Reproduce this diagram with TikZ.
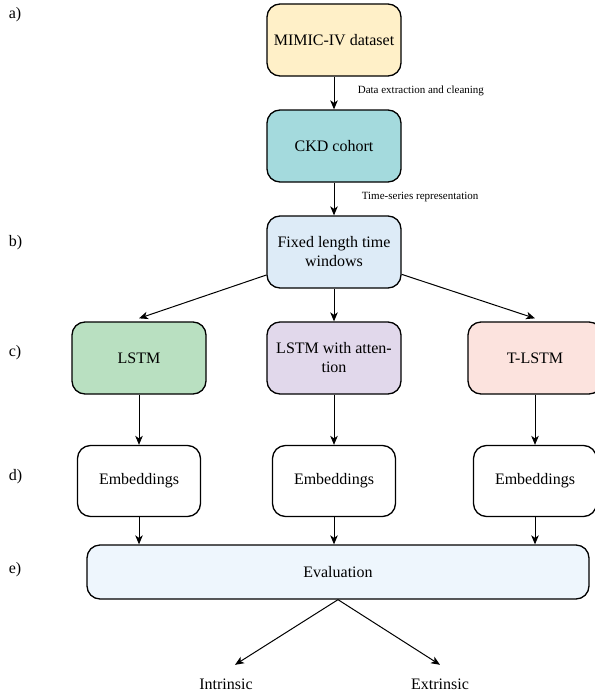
\documentclass[tikz,border=0pt]{standalone}
\usepackage{fontspec}
\setmainfont{Liberation Serif}
\usetikzlibrary{arrows.meta}
\usetikzlibrary{positioning}

\definecolor{mimicyellow}{HTML}{FFF0C8}
\definecolor{ckdteal}{HTML}{A4DADD}
\definecolor{windowblue}{HTML}{DDEBF7}
\definecolor{lstmgreen}{HTML}{B9E0C1}
\definecolor{attlilac}{HTML}{E1D8EB}
\definecolor{tlstmpink}{HTML}{FCE3DE}
\definecolor{evalblue}{HTML}{EEF6FD}

\begin{document}
\begin{tikzpicture}[node distance=106pt,auto,line width=1pt,>={Stealth[length=9pt,width=7.5pt,inset=2.5pt]},
    box/.style={draw,line width=1.3pt,rounded corners=13pt,minimum width=134pt,minimum height=72pt,align=center,font=\fontsize{16}{19}\selectfont},
    embbox/.style={box,minimum width=123pt,minimum height=71pt},
    steplabel/.style={anchor=west,font=\fontsize{16}{19}\selectfont},
    note/.style={font=\fontsize{11}{13}\selectfont}]
      \useasboundingbox (0,0) rectangle (594pt,-693pt);
      % pipeline
      \node[box,fill=mimicyellow] (MIMIC) at (334pt,-40pt) {MIMIC-IV dataset};
      \node[box,fill=ckdteal] (CKD) [below of=MIMIC] {CKD cohort};
      \node[box,fill=windowblue] (FLTW) [below of=CKD] {Fixed length time\\windows};
      \node[box,fill=attlilac] (ATT) [below of=FLTW,node distance=106pt] {LSTM with atten-\\tion};
      \node[box,fill=lstmgreen] (LSTM) [left of=ATT,node distance=195pt] {LSTM};
      \node[box,fill=tlstmpink] (TLSTM) [right of=ATT,node distance=201pt] {T-LSTM};
      \node[embbox] (EmbL) [below of=LSTM,node distance=123pt] {Embeddings};
      \node[embbox] (EmbM) [below of=ATT,node distance=123pt] {Embeddings};
      \node[embbox] (EmbR) [below of=TLSTM,node distance=123pt] {Embeddings};
      \node[box,fill=evalblue,minimum width=502pt,minimum height=54pt] (Eval) at (338pt,-572pt) {Evaluation};
      \node[font=\fontsize{16}{19}\selectfont] (Intr) at (226pt,-684pt) {Intrinsic};
      \node[font=\fontsize{16}{19}\selectfont] (Extr) at (440pt,-684pt) {Extrinsic};
      \coordinate (IntrTip) at ([xshift=9pt,yshift=10pt]Intr.north);
      \coordinate (ExtrTip) at ([yshift=10pt]Extr.north);
      % step labels
      \node[steplabel] (a) at (5pt,-15pt) {a)};
      \node[steplabel] (b) at (5pt,-243pt) {b)};
      \node[steplabel] (c) at (5pt,-353pt) {c)};
      \node[steplabel] (d) at (5pt,-477pt) {d)};
      \node[steplabel] (e) at (5pt,-570pt) {e)};
      % arrows
      \draw[->] (MIMIC) -- node[note,right=20pt,yshift=2pt] {Data extraction and cleaning} (CKD);
      \draw[->] (CKD) -- node[note,right=24pt,yshift=2pt] {Time-series representation} (FLTW);
      \draw[->] (FLTW) -- ([yshift=3pt]LSTM.north);
      \draw[->] (FLTW) -- (ATT);
      \draw[->] (FLTW) -- ([yshift=3pt]TLSTM.north);
      \draw[->] (LSTM) -- (EmbL);
      \draw[->] (ATT) -- (EmbM);
      \draw[->] (TLSTM) -- (EmbR);
      \draw[->] (EmbL) -- (EmbL |- Eval.north);
      \draw[->] (EmbM) -- (EmbM |- Eval.north);
      \draw[->] (EmbR) -- (EmbR |- Eval.north);
      \draw[->] (Eval.south) -- (IntrTip);
      \draw[->] (Eval.south) -- (ExtrTip);
    \end{tikzpicture}
\end{document}
